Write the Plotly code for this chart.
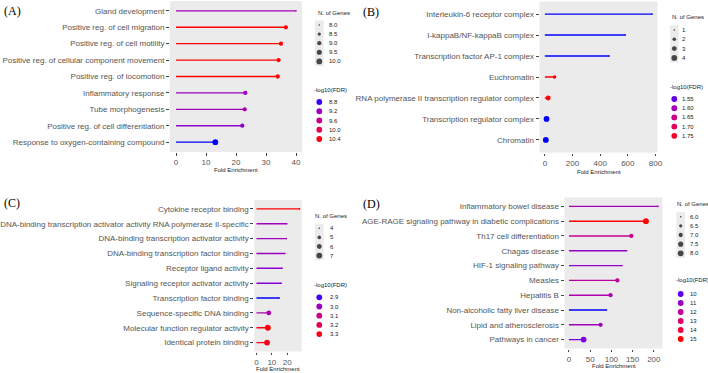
import plotly.graph_objects as go
import numpy as np

W, H = 708, 373

# ---------------- DATA ----------------
a_terms = ["Gland development", "Positive reg. of cell migration", "Positive reg. of cell motility",
           "Positive reg. of cellular component movement", "Positive reg. of locomotion",
           "Inflammatory response", "Tube morphogenesis", "Positive reg. of cell differentiation",
           "Response to oxygen-containing compound"]
a_fold = [40.0, 36.6, 35.0, 34.2, 33.9, 23.1, 22.9, 22.1, 13.1]
a_fdr = [9.26, 10.45, 10.45, 10.45, 10.45, 9.18, 9.25, 9.10, 8.75]
a_genes = [8, 9, 9, 9, 9, 9, 9, 9, 10]
a_size_breaks = [8.0, 8.5, 9.0, 9.5, 10.0]
a_size_labels = ["8.0", "8.5", "9.0", "9.5", "10.0"]
a_fdr_breaks = [8.8, 9.2, 9.6, 10.0, 10.4]
a_fdr_labels = ["8.8", "9.2", "9.6", "10.0", "10.4"]
a_xticks = [0, 10, 20, 30, 40]

b_terms = ["Interleukin-6 receptor complex", "I-kappaB/NF-kappaB complex", "Transcription factor AP-1 complex",
           "Euchromatin", "RNA polymerase II transcription regulator complex",
           "Transcription regulator complex", "Chromatin"]
b_fold = [776, 582, 465, 70, 24, 12, 7]
b_fdr = [1.53, 1.53, 1.53, 1.77, 1.77, 1.53, 1.53]
b_genes = [1, 1, 1, 2, 3, 4, 4]
b_size_breaks = [1, 2, 3, 4]
b_size_labels = ["1", "2", "3", "4"]
b_fdr_breaks = [1.55, 1.60, 1.65, 1.70, 1.75]
b_fdr_labels = ["1.55", "1.60", "1.65", "1.70", "1.75"]
b_xticks = [0, 200, 400, 600, 800]

c_terms = ["Cytokine receptor binding", "DNA-binding transcription activator activity RNA polymerase II-specific",
           "DNA-binding transcription activator activity", "DNA-binding transcription factor binding",
           "Receptor ligand activity", "Signaling receptor activator activity", "Transcription factor binding",
           "Sequence-specific DNA binding", "Molecular function regulator activity", "Identical protein binding"]
c_fold = [28.0, 19.8, 19.4, 18.5, 16.7, 16.1, 14.8, 8.0, 7.4, 6.9]
c_fdr = [3.32, 3.00, 3.00, 2.99, 2.97, 2.96, 2.88, 3.03, 3.31, 3.30]
c_genes = [4, 4, 4, 4, 4, 4, 4, 6, 7, 7]
c_size_breaks = [4, 5, 6, 7]
c_size_labels = ["4", "5", "6", "7"]
c_fdr_breaks = [2.9, 3.0, 3.1, 3.2, 3.3]
c_fdr_labels = ["2.9", "3.0", "3.1", "3.2", "3.3"]
c_xticks = [0, 10, 20]

d_terms = ["Inflammatory bowel disease", "AGE-RAGE signaling pathway in diabetic complications",
           "Th17 cell differentiation", "Chagas disease", "HIF-1 signaling pathway", "Measles", "Hepatitis B",
           "Non-alcoholic fatty liver disease", "Lipid and atherosclerosis", "Pathways in cancer"]
d_fold = [210, 181.5, 147, 136, 125, 114, 98, 88.5, 74.6, 34.6]
d_fdr = [11.2, 15.0, 12.2, 10.8, 10.8, 11.8, 11.5, 9.6, 11.1, 10.4]
d_genes = [6, 8, 7, 6, 6, 7, 7, 6, 7, 8]
d_size_breaks = [6.0, 6.5, 7.0, 7.5, 8.0]
d_size_labels = ["6.0", "6.5", "7.0", "7.5", "8.0"]
d_fdr_breaks = [10, 11, 12, 13, 14, 15]
d_fdr_labels = ["10", "11", "12", "13", "14", "15"]
d_xticks = [0, 50, 100, 150, 200]

# ---------------- COLOUR / SIZE SCALES ----------------
def _lin(c):
    c = c / 255.0
    return c / 12.92 if c <= 0.04045 else ((c + 0.055) / 1.055) ** 2.4

def _gam(c):
    c = max(0.0, min(1.0, c))
    v = 12.92 * c if c <= 0.0031308 else 1.055 * c ** (1 / 2.4) - 0.055
    return int(round(max(0, min(1, v)) * 255))

_WP = (0.95047, 1.0, 1.08883)

def rgb_to_lab(rgb):
    r, g, b = [_lin(v) for v in rgb]
    X = 0.4124 * r + 0.3576 * g + 0.1805 * b
    Y = 0.2126 * r + 0.7152 * g + 0.0722 * b
    Z = 0.0193 * r + 0.1192 * g + 0.9505 * b
    f = lambda t: t ** (1 / 3) if t > 0.008856 else 7.787 * t + 16 / 116
    fx, fy, fz = f(X / _WP[0]), f(Y / _WP[1]), f(Z / _WP[2])
    return (116 * fy - 16, 500 * (fx - fy), 200 * (fy - fz))

def lab_to_hex(lab):
    L, a, b = lab
    fy = (L + 16) / 116
    fx = fy + a / 500
    fz = fy - b / 200
    fi = lambda t: t ** 3 if t ** 3 > 0.008856 else (t - 16 / 116) / 7.787
    X, Y, Z = fi(fx) * _WP[0], fi(fy) * _WP[1], fi(fz) * _WP[2]
    r = 3.2406 * X - 1.5372 * Y - 0.4986 * Z
    g = -0.9689 * X + 1.8758 * Y + 0.0415 * Z
    bb = 0.0557 * X - 0.2040 * Y + 1.0570 * Z
    return "#%02x%02x%02x" % (_gam(r), _gam(g), _gam(bb))

LOW, HIGH = rgb_to_lab((0, 0, 255)), rgb_to_lab((255, 0, 0))

def grad(v, lo, hi):
    t = (v - lo) / (hi - lo) if hi > lo else 0.5
    t = max(0.0, min(1.0, t))
    return lab_to_hex(tuple(LOW[i] + (HIGH[i] - LOW[i]) * t for i in range(3)))

DMIN, DMAX = 1.6, 5.8

def dot(n, lo, hi):
    t = (n - lo) / (hi - lo) if hi > lo else 0.5
    t = max(0.0, min(1.0, t))
    return float(np.sqrt(DMIN ** 2 + (DMAX ** 2 - DMIN ** 2) * t))

# ---------------- LAYOUT CONSTANTS (pixels) ----------------
FONT = "Liberation Sans, Arial, sans-serif"
SERIF = "Liberation Serif, Times New Roman, serif"
TXT = "#555555"
AXFS = 8      # axis text size
LEGFS = 6     # legend / axis-title text size

panels = [
    dict(letter="(A)", lx=2, ly=11, terms=a_terms, fold=a_fold, fdr=a_fdr, genes=a_genes,
         sb=a_size_breaks, sl=a_size_labels, fb=a_fdr_breaks, fl=a_fdr_labels, xt=a_xticks,
         px=(170, 302), py=(1, 152), xtitle_y=170,
         leg_x=319.3, st=(315.5, 12.5), sy0=25, sstep=9.1, ct=(311.7, 90), cy0=102, cstep=9.25, lab_dx=7.5),
    dict(letter="(B)", lx=361, ly=12, terms=b_terms, fold=b_fold, fdr=b_fdr, genes=b_genes,
         sb=b_size_breaks, sl=b_size_labels, fb=b_fdr_breaks, fl=b_fdr_labels, xt=b_xticks,
         px=(539.5, 657.5), py=(1.5, 152.5), xtitle_y=172,
         leg_x=674.3, st=(670, 17.3), sy0=30, sstep=9.3, ct=(668.3, 87.3), cy0=99, cstep=9.2, lab_dx=6),
    dict(letter="(C)", lx=2, ly=203, terms=c_terms, fold=c_fold, fdr=c_fdr, genes=c_genes,
         sb=c_size_breaks, sl=c_size_labels, fb=c_fdr_breaks, fl=c_fdr_labels, xt=c_xticks,
         px=(254.3, 301.7), py=(200, 351.5), xtitle_y=369,
         leg_x=319.3, st=(312.7, 216), sy0=228.3, sstep=9.1, ct=(312.3, 285), cy0=297.3, cstep=9.2, lab_dx=9),
    dict(letter="(D)", lx=361, ly=204, terms=d_terms, fold=d_fold, fdr=d_fdr, genes=d_genes,
         sb=d_size_breaks, sl=d_size_labels, fb=d_fdr_breaks, fl=d_fdr_labels, xt=d_xticks,
         px=(564.5, 662.5), py=(197.5, 348.5), xtitle_y=365.7,
         leg_x=680.7, st=(674.8, 204.3), sy0=216.7, sstep=9.15, ct=(673.8, 280), cy0=294, cstep=9.0, lab_dx=7.5),
]

fig = go.Figure()
layout = dict(width=W, height=H, margin=dict(l=0, r=0, t=0, b=0, autoexpand=False), paper_bgcolor="white",
              plot_bgcolor="rgba(0,0,0,0)", showlegend=False)
annotations = []
shapes = []

OV = 9  # overlay axis index used for guides / texts
ovx, ovy = "x%d" % OV, "y%d" % OV

def ax(letter, i):
    return letter if i == 1 else "%s%d" % (letter, i)

for i, p in enumerate(panels, start=1):
    xa, ya = ax("x", i), ax("y", i)
    lo_c, hi_c = min(p["fdr"]), max(p["fdr"])
    lo_s, hi_s = min(p["genes"]), max(p["genes"])
    cols = [grad(v, lo_c, hi_c) for v in p["fdr"]]
    sizes = [dot(n, lo_s, hi_s) for n in p["genes"]]
    # panel background
    shapes.append(dict(type="rect", xref="%s domain" % xa, yref="%s domain" % ya, x0=0, x1=1, y0=0, y1=1,
                       fillcolor="#ebebeb", line=dict(width=0), layer="below"))
    for term, f, c in zip(p["terms"], p["fold"], cols):
        fig.add_trace(go.Scatter(x=[0, f], y=[term, term], mode="lines", line=dict(color=c, width=1.4),
                                 xaxis=xa, yaxis=ya, hoverinfo="skip"))
    fig.add_trace(go.Scatter(x=p["fold"], y=p["terms"], mode="markers",
                             marker=dict(color=cols, size=sizes, line=dict(width=0), opacity=1),
                             xaxis=xa, yaxis=ya))
    n = len(p["terms"])
    xmin = min(0, min(p["fold"]))
    xmax = max(p["fold"])
    pad = 0.05 * (xmax - xmin)
    dom_x = [p["px"][0] / W, p["px"][1] / W]
    dom_y = [1 - p["py"][1] / H, 1 - p["py"][0] / H]
    layout[ax("xaxis", i)] = dict(domain=dom_x, range=[xmin - pad, xmax + pad], tickvals=p["xt"],
                                  showgrid=False, zeroline=False, showline=False, ticks="outside",
                                  ticklen=2.5, tickwidth=1, tickcolor="#444", automargin=False,
                                  tickfont=dict(family=FONT, size=AXFS, color=TXT), anchor=ya)
    layout[ax("yaxis", i)] = dict(domain=dom_y, type="category", categoryorder="array",
                                  categoryarray=p["terms"], range=[n - 1 + 0.6, -0.6],
                                  showgrid=False, zeroline=False, showline=False, ticks="outside",
                                  ticklen=3, tickwidth=1, tickcolor="#444", automargin=False,
                                  tickfont=dict(family=FONT, size=AXFS, color=TXT), anchor=xa)
    # axis title
    annotations.append(dict(x=(p["px"][0] + p["px"][1]) / 2, y=p["xtitle_y"], xref=ovx, yref=ovy,
                            text="Fold Enrichment", showarrow=False, xanchor="center", yanchor="middle",
                            font=dict(family=FONT, size=LEGFS, color="#222")))
    # panel letter
    annotations.append(dict(x=p["lx"], y=p["ly"], xref=ovx, yref=ovy, text=p["letter"], showarrow=False,
                            xanchor="left", yanchor="middle", font=dict(family=SERIF, size=12, color="black")))
    # size legend
    annotations.append(dict(x=p["st"][0], y=p["st"][1], xref=ovx, yref=ovy, text="N. of Genes",
                            showarrow=False, xanchor="left", yanchor="middle",
                            font=dict(family=FONT, size=LEGFS, color="#222")))
    k = len(p["sb"])
    sy = [p["sy0"] + j * p["sstep"] for j in range(k)]
    shapes.append(dict(type="rect", xref=ovx, yref=ovy, x0=p["leg_x"] - 4.3, x1=p["leg_x"] + 4.3,
                       y0=sy[0] - p["sstep"] / 2, y1=sy[-1] + p["sstep"] / 2,
                       fillcolor="#ebebeb", line=dict(width=0), layer="below"))
    fig.add_trace(go.Scatter(x=[p["leg_x"]] * k, y=sy, mode="markers", xaxis=ovx, yaxis=ovy,
                             marker=dict(color="black", size=[dot(v, lo_s, hi_s) for v in p["sb"]],
                                         line=dict(width=0))))
    for yy, lab in zip(sy, p["sl"]):
        annotations.append(dict(x=p["leg_x"] + p["lab_dx"], y=yy, xref=ovx, yref=ovy, text=lab,
                                showarrow=False, xanchor="left", yanchor="middle",
                                font=dict(family=FONT, size=LEGFS, color="#222")))
    # colour legend
    annotations.append(dict(x=p["ct"][0], y=p["ct"][1], xref=ovx, yref=ovy, text="-log10(FDR)",
                            showarrow=False, xanchor="left", yanchor="middle",
                            font=dict(family=FONT, size=LEGFS, color="#222")))
    kc = len(p["fb"])
    cy = [p["cy0"] + j * p["cstep"] for j in range(kc)]
    fig.add_trace(go.Scatter(x=[p["leg_x"]] * kc, y=cy, mode="markers", xaxis=ovx, yaxis=ovy,
                             marker=dict(color=[grad(v, lo_c, hi_c) for v in p["fb"]], size=5.8,
                                         line=dict(width=0))))
    for yy, lab in zip(cy, p["fl"]):
        annotations.append(dict(x=p["leg_x"] + p["lab_dx"], y=yy, xref=ovx, yref=ovy, text=lab,
                                showarrow=False, xanchor="left", yanchor="middle",
                                font=dict(family=FONT, size=LEGFS, color="#222")))

layout["xaxis%d" % OV] = dict(domain=[0, 1], range=[0, W], visible=False, fixedrange=True, anchor=ovy,
                              automargin=False)
layout["yaxis%d" % OV] = dict(domain=[0, 1], range=[H, 0], visible=False, fixedrange=True, anchor=ovx,
                              automargin=False)
layout["annotations"] = annotations
layout["shapes"] = shapes
fig.update_layout(**layout)
fig.write_html("out.html")
